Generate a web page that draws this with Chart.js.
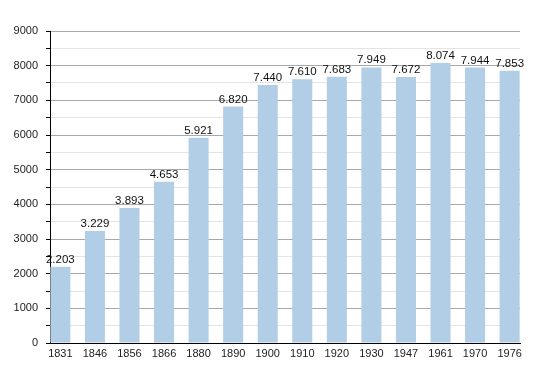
<!DOCTYPE html>
<html>
<head>
<meta charset="utf-8">
<script src="https://cdn.jsdelivr.net/npm/chart.js@4/dist/chart.umd.min.js"></script>
<style>
  body { margin: 0; background: #fff; }
  #wrap { width: 550px; height: 373px; }
</style>
</head>
<body>
<div id="wrap"><canvas id="chart" width="550" height="373"></canvas></div>
<script>
const years = ["1831", "1846", "1856", "1866", "1880", "1890", "1900", "1910", "1920", "1930", "1947", "1961", "1970", "1976"];
const population = [2203, 3229, 3893, 4653, 5921, 6820, 7440, 7610, 7683, 7949, 7672, 8074, 7944, 7853];
const yTicks = [0, 1000, 2000, 3000, 4000, 5000, 6000, 7000, 8000, 9000];

const fontFamily = "'Liberation Sans', Arial, Helvetica, sans-serif";

// value labels above bars, with dot as thousands separator
const valueLabels = {
  id: "valueLabels",
  afterDatasetsDraw(chart) {
    const ctx = chart.ctx;
    const meta = chart.getDatasetMeta(0);
    ctx.save();
    ctx.font = "11.5px " + fontFamily;
    ctx.fillStyle = "#111";
    ctx.textAlign = "center";
    ctx.textBaseline = "alphabetic";
    meta.data.forEach((bar, i) => {
      const v = population[i];
      const txt = Math.floor(v / 1000) + "." + String(v % 1000).padStart(3, "0");
      ctx.fillText(txt, bar.x, bar.y - 4);
    });
    ctx.restore();
  }
};

new Chart(document.getElementById("chart").getContext("2d"), {
  type: "bar",
  data: {
    datasets: [{
      data: population.map((v, i) => ({ x: i, y: v })),
      backgroundColor: "#b2cde6",
      borderWidth: 0,
      barPercentage: 0.58,
      categoryPercentage: 1
    }]
  },
  options: {
    responsive: false,
    animation: false,
    layout: { padding: { left: 0, right: 30, top: 31, bottom: 0 } },
    plugins: { legend: { display: false }, tooltip: { enabled: false } },
    scales: {
      x: {
        type: "linear",
        offset: false,
        min: -0.3,
        max: 13.3,
        grid: { display: false, drawTicks: false },
        border: { color: "#000", width: 1 },
        ticks: {
          stepSize: 1,
          includeBounds: false,
          autoSkip: false,
          maxRotation: 0,
          padding: 4,
          color: "#222",
          font: { family: fontFamily, size: 11 },
          callback: (v) => years[v] !== undefined && Number.isInteger(v) ? years[v] : ""
        },
        afterFit(scale) { scale.height = 30; }
      },
      y: {
        min: 0,
        max: 9000,
        grid: {
          color: (c) => c.tick && c.tick.value % 1000 === 0 ? "#a8a8a8" : "#e4e4e4",
          tickColor: "#000",
          tickLength: 4
        },
        border: { color: "#000", width: 1 },
        ticks: {
          stepSize: 500,
          autoSkip: false,
          padding: 8,
          color: "#222",
          font: { family: fontFamily, size: 11 },
          callback: (v) => yTicks.includes(v) ? String(v) : ""
        },
        afterFit(scale) { scale.width = 50; }
      }
    }
  },
  plugins: [valueLabels]
});
</script>
</body>
</html>
